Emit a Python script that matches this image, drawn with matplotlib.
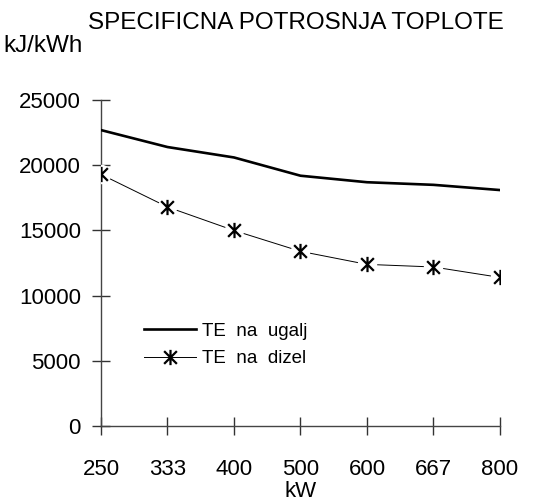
import matplotlib
matplotlib.use("Agg")
import matplotlib.pyplot as plt
from matplotlib.path import Path
from matplotlib.lines import Line2D

# Podaci: specificna potrosnja toplote po snazi
snaga = ["250", "333", "400", "500", "600", "667", "800"]
ugalj = [22700, 21400, 20600, 19200, 18700, 18500, 18100]
dizel = [19300, 16800, 15000, 13400, 12400, 12200, 11400]
y_ticks = [0, 5000, 10000, 15000, 20000, 25000]

plt.rcParams["font.family"] = ["Liberation Sans", "DejaVu Sans"]

# zvjezdica: X + vertikalna crta
STAR = Path(
    [(-1, -1), (1, 1), (-1, 1), (1, -1), (0, -1.2), (0, 1.2)],
    [Path.MOVETO, Path.LINETO] * 3,
)

fig = plt.figure(figsize=(5.33, 5.03), dpi=100)
ax = fig.add_axes([0.1895, 0.153, 0.7485, 0.648])

x = list(range(len(snaga)))
ax.plot(x, ugalj, color="black", linewidth=1.9, solid_joinstyle="round", zorder=3)
ax.plot(x, dizel, color="black", linewidth=0.7, zorder=3)
ax.plot(x, dizel, linestyle="none", marker="o", markersize=13,
        markerfacecolor="white", markeredgecolor="white", zorder=4)
ax.plot(x, dizel, linestyle="none", marker=STAR, markersize=11,
        markerfacecolor="none", markeredgecolor="black", markeredgewidth=1.6,
        zorder=5)

ax.set_xlim(0, len(snaga) - 1)
ax.set_ylim(0, 25000)
ax.set_xticks(x)
ax.set_xticklabels(snaga)
ax.set_yticks(y_ticks)
ax.set_yticklabels([str(v) for v in y_ticks])

for side in ("top", "right"):
    ax.spines[side].set_visible(False)
for side in ("left", "bottom"):
    ax.spines[side].set_color("#444444")
    ax.spines[side].set_linewidth(1.0)

ax.tick_params(axis="both", direction="inout", length=13, width=1.0,
               color="#333333", labelsize=16)
ax.tick_params(axis="x", pad=17)
ax.tick_params(axis="y", pad=8)

ax.set_xlabel("kW", fontsize=16, labelpad=1)

fig.text(0.555, 0.955, "SPECIFICNA POTROSNJA TOPLOTE", fontsize=17.5,
         ha="center", va="center")
fig.text(0.006, 0.908, "kJ/kWh", fontsize=17.5, ha="left", va="center")

handles = [
    Line2D([], [], color="black", linewidth=1.9),
    Line2D([], [], color="black", linewidth=0.7, marker=STAR, markersize=11,
           markerfacecolor="none", markeredgecolor="black",
           markeredgewidth=1.6),
]
ax.legend(handles, ["TE  na  ugalj", "TE  na  dizel"], loc="upper left",
          bbox_to_anchor=(0.252, 0.377), bbox_transform=fig.transFigure,
          frameon=False, fontsize=13.5, handlelength=2.8, handletextpad=0.3,
          labelspacing=0.55, borderpad=0.0)

fig.savefig("out.png", dpi=100)
